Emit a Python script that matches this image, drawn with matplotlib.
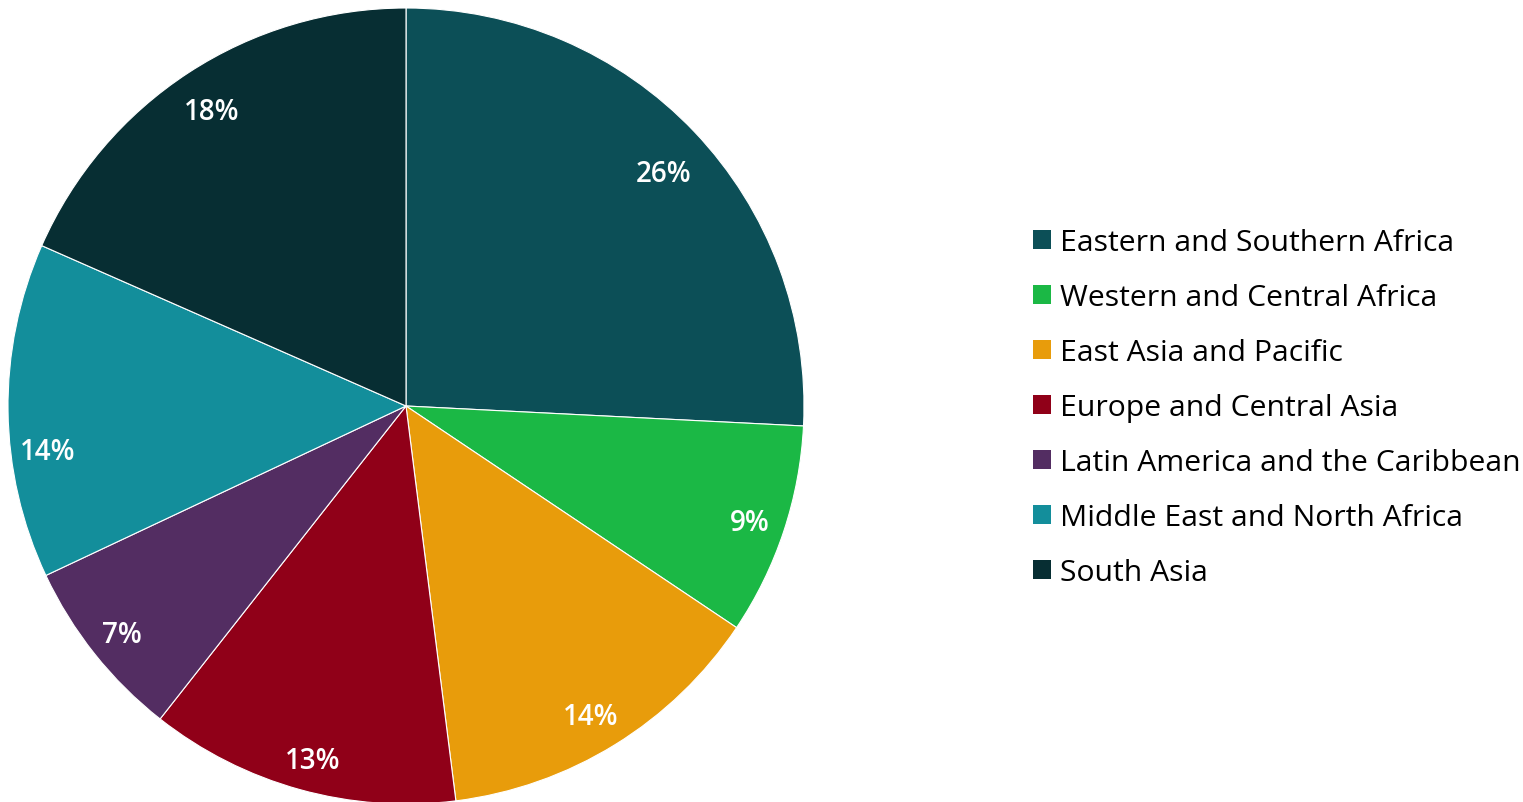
import matplotlib
matplotlib.use("Agg")
import matplotlib.pyplot as plt
from matplotlib.patches import Patch

categories = ["Eastern and Southern Africa", "Western and Central Africa",
              "East Asia and Pacific", "Europe and Central Asia",
              "Latin America and the Caribbean", "Middle East and North Africa",
              "South Asia"]
values = [25.8, 8.6, 13.6, 12.6, 7.4, 13.6, 18.4]
colors = ["#0c4f57", "#1bb845", "#e89c0b", "#900018", "#532d62", "#138e9b", "#072e33"]
# label nudges in pixels (dx, dy downward)
label_nudge = [(-2, 14), (4, 4), (-3, 6), (2, 9), (-4, 5), (0, 41), (1, 6)]

plt.rcParams['font.family'] = ['Open Sans', 'DejaVu Sans']

W, H = 1523, 803
fig = plt.figure(figsize=(W / 100, H / 100), dpi=100)
cx, cy, r = 406, 407, 398
ax = fig.add_axes([(cx - r) / W, (H - cy - r) / H, 2 * r / W, 2 * r / H])
wedges, texts, autotexts = ax.pie(values, colors=colors, startangle=90, counterclock=False,
                                  autopct=lambda p: f"{p:.0f}%", pctdistance=0.9,
                                  wedgeprops=dict(edgecolor="white", linewidth=0.8),
                                  textprops=dict(color="white", fontsize=20, fontweight="semibold"))
ax.set_xlim(-1, 1)
ax.set_ylim(-1, 1)
ax.set_aspect("equal")
ax.axis("off")
for t, (dx, dy) in zip(autotexts, label_nudge):
    x, y = t.get_position()
    t.set_position((x + dx / r, y - dy / r))

handles = [Patch(facecolor=c, edgecolor="none") for c in colors]
leg = fig.legend(handles, categories, loc="upper left", bbox_to_anchor=(1033 / W, 1 - 229 / H),
                 frameon=False, fontsize=21.7, handlelength=0.6, handleheight=0.6,
                 handletextpad=0.28, labelspacing=0.865, borderaxespad=0, borderpad=0)
fig.savefig("out.png", dpi=100)
